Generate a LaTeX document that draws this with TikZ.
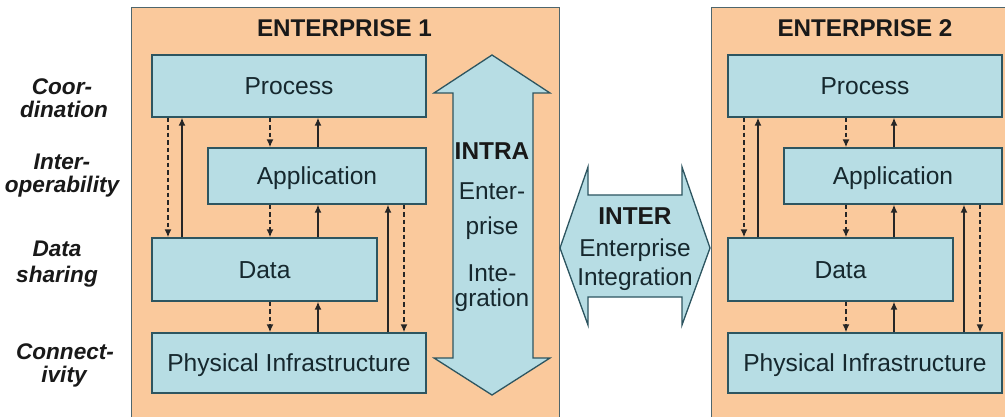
\documentclass[tikz,border=0pt]{standalone}
\usepackage{fontspec}
\setmainfont{Liberation Sans}
\usetikzlibrary{arrows.meta}
\definecolor{peach}{RGB}{250,201,156}
\definecolor{lblue}{RGB}{183,221,228}
\definecolor{edgec}{RGB}{45,85,96}
\definecolor{txt}{RGB}{22,40,46}
\begin{document}
\begin{tikzpicture}[x=1pt,y=-1pt,
  layer/.style={draw=edgec, line width=1.3pt, fill=lblue, inner sep=0pt,
    font=\fontsize{24.6}{28}\selectfont, text=txt, text height=17.5pt, text depth=0pt},
  panel/.style={fill=peach, draw=edgec!60!gray, line width=1pt},
  bigarrow/.style={fill=lblue, draw=edgec, line width=1.3pt, line join=miter},
  title/.style={font=\fontsize{24.2}{28}\bfseries\selectfont, anchor=base, text=black!90},
  side/.style={font=\fontsize{22.6}{26}\bfseries\itshape\selectfont, anchor=base, text=black!90},
  atext/.style={font=\fontsize{24.4}{28}\selectfont, anchor=base, text=txt},
  btext/.style={font=\fontsize{24.4}{28}\bfseries\selectfont, anchor=base, text=black!90},
  down/.style={dash pattern=on 4.5pt off 3pt, line width=1.7pt, draw=black!85,
    -{Latex[length=8pt,width=7pt]}},
  up/.style={line width=1.5pt, draw=black!85, -{Latex[length=8pt,width=7pt]}}
]
\useasboundingbox (0,0) rectangle (1005,417);
\fill[white] (0,0) rectangle (1005,417);

% panels
\draw[panel] (131,430) -- (131,8) -- (559,8) -- (559,430);
\draw[panel] (711,430) -- (711,8) -- (1015,8) -- (1015,430);

% titles
\node[title] (t1) at (344.5,37) {ENTERPRISE 1};
\node[title] (t2) at (865,37) {ENTERPRISE 2};

% side labels
\node[side] (s1a) at (62,95) {Coor-};
\node[side] (s1b) at (64,118) {dination};
\node[side] (s2a) at (62,170) {Inter-};
\node[side] (s2b) at (62,193) {operability};
\node[side] (s3a) at (57,256) {Data};
\node[side] (s3b) at (57,282) {sharing};
\node[side] (s4a) at (65,359) {Connect-};
\node[side] (s4b) at (64,382) {ivity};

% INTRA arrow
\draw[bigarrow] (492,55) -- (550,93) -- (533,93) -- (533,358) -- (550,358)
  -- (492,395) -- (434,358) -- (453,358) -- (453,93) -- (434,93) -- cycle;
\node[btext] (intra) at (492,160) {INTRA};
\node[atext] (ia) at (492,200) {Enter-};
\node[atext] (ib) at (492,235) {prise};
\node[atext] (ic) at (492,281) {Inte-};
\node[atext] (id) at (492,306) {gration};

% INTER arrow
\draw[bigarrow] (560,248) -- (588,167) -- (588,195) -- (682,195) -- (682,167)
  -- (710,248) -- (682,325) -- (682,297) -- (588,297) -- (588,325) -- cycle;
\node[btext] (inter) at (635,225) {INTER};
\node[atext] (ea) at (635,257) {Enterprise};
\node[atext] (eb) at (635,285) {Integration};

% the two layer stacks
\foreach \e/\dx in {1/0,2/576}{
  \begin{scope}[xshift=\dx pt]
    \node[layer, minimum width=274pt, minimum height=62pt] (p\e) at (289,86) {Process};
    \node[layer, minimum width=218pt, minimum height=56pt] (a\e) at (317,176) {Application};
    \node[layer, minimum width=225pt, minimum height=63pt] (d\e) at (264.5,269.5) {Data};
    \node[layer, minimum width=274pt, minimum height=60pt] (f\e) at (289,363) {Physical Infrastructure};
    \coordinate (xa\e) at (168,0);
    \coordinate (xb\e) at (182,0);
    \coordinate (xc\e) at (270,0);
    \coordinate (xd\e) at (318,0);
    \coordinate (xe\e) at (388,0);
    \coordinate (xf\e) at (404,0);
  \end{scope}
  \draw[down] (p\e.south -| xa\e) -- (d\e.north -| xa\e);
  \draw[up]   (d\e.north -| xb\e) -- (p\e.south -| xb\e);
  \draw[down] (p\e.south -| xc\e) -- (a\e.north -| xc\e);
  \draw[up]   (a\e.north -| xd\e) -- (p\e.south -| xd\e);
  \draw[down] (a\e.south -| xc\e) -- (d\e.north -| xc\e);
  \draw[up]   (d\e.north -| xd\e) -- (a\e.south -| xd\e);
  \draw[down] (d\e.south -| xc\e) -- (f\e.north -| xc\e);
  \draw[up]   (f\e.north -| xd\e) -- (d\e.south -| xd\e);
  \draw[up]   (f\e.north -| xe\e) -- (a\e.south -| xe\e);
  \draw[down] (a\e.south -| xf\e) -- (f\e.north -| xf\e);
}
\end{tikzpicture}
\end{document}
